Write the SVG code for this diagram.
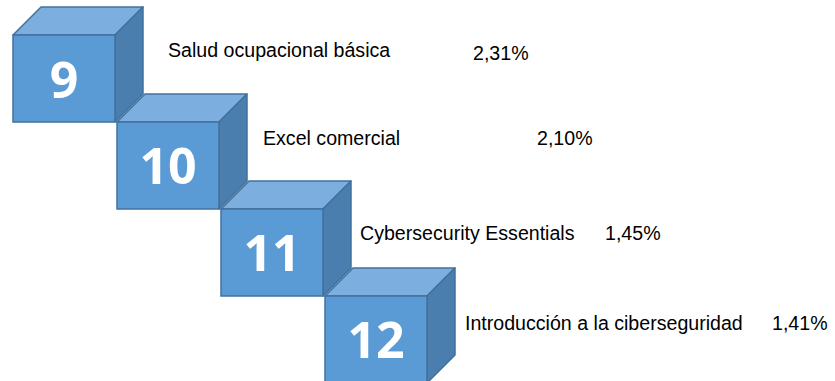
<svg xmlns="http://www.w3.org/2000/svg" width="835" height="381" viewBox="0 0 835 381">
<style>
.front{fill:#5B9BD5;stroke:#41719C;stroke-width:1.5}
.top{fill:#7CAFDF;stroke:#41719C;stroke-width:1.5;stroke-linejoin:round}
.side{fill:#4A7EAE;stroke:#41719C;stroke-width:1.5;stroke-linejoin:round}
.num{font-family:"Open Sans","Liberation Sans",sans-serif;font-weight:bold;font-size:50px;fill:#FFFFFF;text-anchor:middle}
.lbl{font-family:"Liberation Sans","Noto Sans",sans-serif;font-size:19.6px;fill:#000000}
</style>
<rect width="835" height="381" fill="#FFFFFF"/>
<g id="cube9">
<polygon class="top" points="13,35 41,7 143,7 115,35"/>
<polygon class="side" points="115,35 143,7 143,94 115,122"/>
<rect class="front" x="13" y="35" width="102" height="87"/>
<text class="num" x="64" y="98">9</text>
</g>
<g id="cube10">
<polygon class="top" points="117,122 145,94 247,94 219,122"/>
<polygon class="side" points="219,122 247,94 247,181 219,209"/>
<rect class="front" x="117" y="122" width="102" height="87"/>
<text class="num" x="168" y="184">10</text>
</g>
<g id="cube11">
<polygon class="top" points="221,209 249,181 351,181 323,209"/>
<polygon class="side" points="323,209 351,181 351,268 323,296"/>
<rect class="front" x="221" y="209" width="102" height="87"/>
<text class="num" x="272" y="271">11</text>
</g>
<g id="cube12">
<polygon class="top" points="325,296 353,268 455,268 427,296"/>
<polygon class="side" points="427,296 455,268 455,355 427,383"/>
<rect class="front" x="325" y="296" width="102" height="87"/>
<text class="num" x="376" y="358">12</text>
</g>
<g id="labels">
<text class="lbl" x="168" y="57">Salud ocupacional básica</text>
<text class="lbl" x="473" y="60">2,31%</text>
<text class="lbl" x="263" y="145">Excel comercial</text>
<text class="lbl" x="537" y="145">2,10%</text>
<text class="lbl" x="360" y="240">Cybersecurity Essentials</text>
<text class="lbl" x="605" y="240">1,45%</text>
<text class="lbl" x="465" y="330">Introducción a la ciberseguridad</text>
<text class="lbl" x="772" y="330">1,41%</text>
</g>
</svg>
